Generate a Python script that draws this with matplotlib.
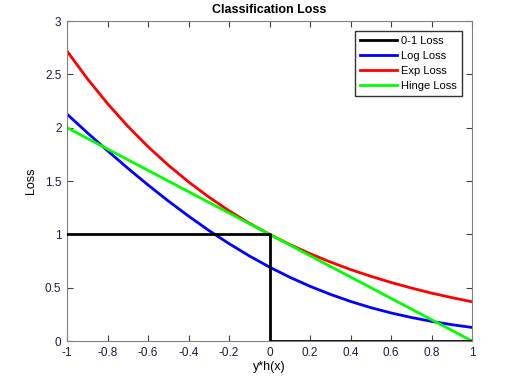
import matplotlib
matplotlib.use("Agg")
import matplotlib.pyplot as plt

plt.rcParams['font.family'] = ['Liberation Sans', 'DejaVu Sans']

x = [-1.0, -0.9, -0.8, -0.7, -0.6, -0.5, -0.4, -0.3, -0.2, -0.1, 0.0,
     0.1, 0.2, 0.3, 0.4, 0.5, 0.6, 0.7, 0.8, 0.9, 1.0]
log_loss = [2.127, 1.953, 1.784, 1.620, 1.463, 1.313, 1.171, 1.037, 0.913, 0.798, 0.693,
            0.598, 0.513, 0.438, 0.371, 0.313, 0.263, 0.221, 0.184, 0.153, 0.127]
exp_loss = [2.718, 2.460, 2.226, 2.014, 1.822, 1.649, 1.492, 1.350, 1.221, 1.105, 1.000,
            0.905, 0.819, 0.741, 0.670, 0.607, 0.549, 0.497, 0.449, 0.407, 0.368]
hinge_x = [-1.0, 1.0]
hinge_loss = [2.0, 0.0]
zo_x = [-1.0, 0.0, 0.0, 1.0]
zo_loss = [1.0, 1.0, 0.0, 0.0]

xticks = [-1, -0.8, -0.6, -0.4, -0.2, 0, 0.2, 0.4, 0.6, 0.8, 1]
xticklabels = ['-1', '-0.8', '-0.6', '-0.4', '-0.2', '0', '0.2', '0.4', '0.6', '0.8', '1']
yticks = [0, 0.5, 1, 1.5, 2, 2.5, 3]
yticklabels = ['0', '0.5', '1', '1.5', '2', '2.5', '3']

fig = plt.figure(figsize=(5.22, 3.84), dpi=100)
W, H = 522, 384
ax = fig.add_axes([67 / W, 1 - 341 / H, (472 - 67) / W, (341 - 21) / H])

lw = 2.0
ax.plot(zo_x, zo_loss, color='black', lw=lw, label='0-1 Loss', zorder=3)
ax.plot(x, log_loss, color='#0000ff', lw=lw, label='Log Loss')
ax.plot(x, exp_loss, color='#ff0000', lw=lw, label='Exp Loss')
ax.plot(hinge_x, hinge_loss, color='#00ff00', lw=lw, label='Hinge Loss')

ax.set_xlim(-1, 1)
ax.set_ylim(0, 3)
ax.set_xticks(xticks)
ax.set_xticklabels(xticklabels)
ax.set_yticks(yticks)
ax.set_yticklabels(yticklabels)
ax.tick_params(direction='in', top=True, right=True, length=4, width=0.8,
               colors='#404040', labelcolor='#1a1a40', labelsize=8.5, pad=4)
for s in ax.spines.values():
    s.set_color('#808080')
    s.set_linewidth(0.8)

ax.set_title('Classification Loss', fontsize=9, fontweight='bold', pad=6)
ax.set_xlabel('y*h(x)', fontsize=9, labelpad=2)
ax.set_ylabel('Loss', fontsize=9, labelpad=6)

leg = ax.legend(loc='upper right', bbox_to_anchor=((462 - 67) / (472 - 67), 1 - (31 - 21) / 320),
                fontsize=8, frameon=True, fancybox=False, handlelength=3.3,
                handletextpad=0.4, borderpad=0.45, labelspacing=0.45, borderaxespad=0)
leg.get_frame().set_edgecolor('black')
leg.get_frame().set_linewidth(1.0)

fig.savefig('out.png', dpi=100)
